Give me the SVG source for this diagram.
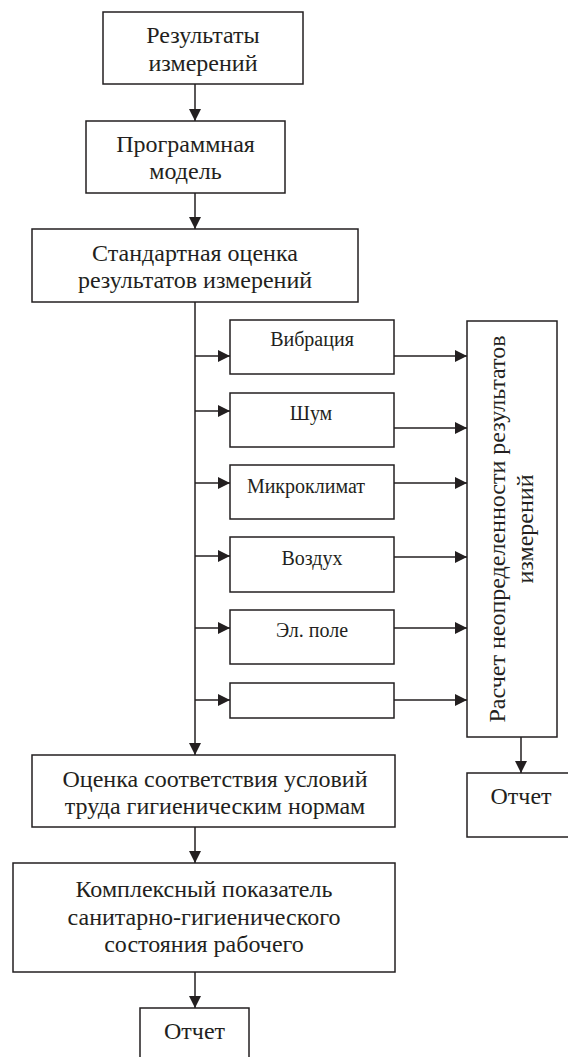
<svg xmlns="http://www.w3.org/2000/svg" width="568" height="1057" viewBox="0 0 568 1057">
<style>
.box{fill:#fff;stroke:#231f20;stroke-width:1.5}
.c{fill:none;stroke:#231f20;stroke-width:1.5}
.t{font-family:"Liberation Serif","Times New Roman",serif;font-size:24px;fill:#231f20;text-anchor:middle}
.s{font-family:"Liberation Serif","Times New Roman",serif;font-size:20px;fill:#231f20;text-anchor:middle}
</style>
<defs>
<marker id="ah" viewBox="0 0 12 12" markerWidth="12" markerHeight="12" refX="12" refY="6" orient="auto" markerUnits="userSpaceOnUse">
<path d="M0,0 L12,6 L0,12 z" fill="#231f20"/>
</marker>
</defs>
<rect width="568" height="1057" fill="#fff"/>
<g id="connectors">
<path class="c" d="M195,84 V121" marker-end="url(#ah)"/>
<path class="c" d="M195,193 V229" marker-end="url(#ah)"/>
<path class="c" d="M195,302 V755" marker-end="url(#ah)"/>
<path class="c" d="M195,356 H230" marker-end="url(#ah)"/>
<path class="c" d="M195,411 H230" marker-end="url(#ah)"/>
<path class="c" d="M195,483 H230" marker-end="url(#ah)"/>
<path class="c" d="M195,556 H230" marker-end="url(#ah)"/>
<path class="c" d="M195,628 H230" marker-end="url(#ah)"/>
<path class="c" d="M195,700 H230" marker-end="url(#ah)"/>
<path class="c" d="M394,356 H467" marker-end="url(#ah)"/>
<path class="c" d="M394,428 H467" marker-end="url(#ah)"/>
<path class="c" d="M394,483 H467" marker-end="url(#ah)"/>
<path class="c" d="M394,557 H467" marker-end="url(#ah)"/>
<path class="c" d="M394,628 H467" marker-end="url(#ah)"/>
<path class="c" d="M394,700 H467" marker-end="url(#ah)"/>
<path class="c" d="M521,737 V773" marker-end="url(#ah)"/>
<path class="c" d="M195,827 V863" marker-end="url(#ah)"/>
<path class="c" d="M195,972 V1008" marker-end="url(#ah)"/>
</g>
<g id="n1">
<rect class="box" x="103" y="12" width="200" height="72"/>
<text class="t" x="203" y="43">Результаты</text>
<text class="t" x="203" y="71">измерений</text>
</g>
<g id="n2">
<rect class="box" x="86" y="121" width="199" height="72"/>
<text class="t" x="185.5" y="152">Программная</text>
<text class="t" x="185.5" y="179">модель</text>
</g>
<g id="n3">
<rect class="box" x="32" y="229" width="326" height="73"/>
<text class="t" x="195" y="261">Стандартная оценка</text>
<text class="t" x="195" y="288">результатов измерений</text>
</g>
<g id="vib">
<rect class="box" x="230" y="320" width="164" height="54"/>
<text class="s" x="312" y="346">Вибрация</text>
</g>
<g id="noise">
<rect class="box" x="230" y="393" width="164" height="54"/>
<text class="s" x="311" y="420">Шум</text>
</g>
<g id="micro">
<rect class="box" x="230" y="465" width="164" height="54"/>
<text class="s" x="306" y="493">Микроклимат</text>
</g>
<g id="air">
<rect class="box" x="230" y="537" width="164" height="55"/>
<text class="s" x="312" y="565">Воздух</text>
</g>
<g id="efield">
<rect class="box" x="230" y="610" width="164" height="54"/>
<text class="s" x="312" y="637">Эл. поле</text>
</g>
<g id="empty">
<rect class="box" x="230" y="683" width="164" height="35"/>
</g>
<g id="uncert">
<rect class="box" x="467" y="321" width="90" height="416"/>
<text class="t" transform="translate(505,529) rotate(-90)">Расчет неопределенности результатов</text>
<text class="t" transform="translate(533,529) rotate(-90)">измерений</text>
</g>
<g id="report1">
<rect class="box" x="467" y="773" width="110" height="64"/>
<text class="t" x="521" y="804">Отчет</text>
</g>
<g id="n4">
<rect class="box" x="32" y="755" width="363" height="72"/>
<text class="t" x="215" y="787">Оценка соответствия условий</text>
<text class="t" x="215" y="814">труда гигиеническим нормам</text>
</g>
<g id="n5">
<rect class="box" x="13" y="863" width="382" height="109"/>
<text class="t" x="204" y="897">Комплексный показатель</text>
<text class="t" x="204" y="925">санитарно-гигиенического</text>
<text class="t" x="204" y="952">состояния рабочего</text>
</g>
<g id="report2">
<rect class="box" x="140" y="1008" width="109" height="70"/>
<text class="t" x="194.5" y="1039">Отчет</text>
</g>
</svg>
